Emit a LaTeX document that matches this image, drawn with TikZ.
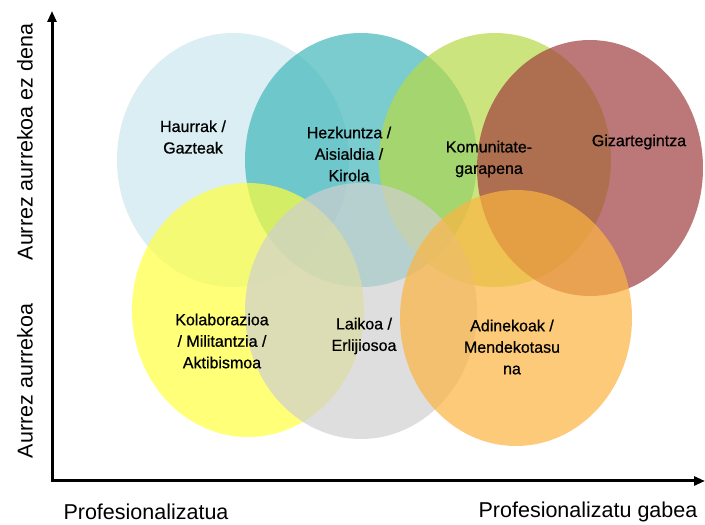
\documentclass[tikz,border=0pt]{standalone}
\usepackage{fontspec}
\setmainfont{Liberation Sans}
\newfontfamily\bubblefont[FakeBold=0.8]{Liberation Sans}
\usepackage{xcolor}
\usetikzlibrary{shapes.geometric,arrows.meta}

\definecolor{haurblue}{RGB}{203,231,238}
\definecolor{hezteal}{RGB}{65,182,185}
\definecolor{komgreen}{RGB}{183,217,70}
\definecolor{gizmaroon}{RGB}{160,62,62}
\definecolor{kolyellow}{RGB}{255,255,62}
\definecolor{laigrey}{RGB}{208,208,208}
\definecolor{adiorange}{RGB}{252,180,65}

\begin{document}
\begin{tikzpicture}[
    x=1pt, y=1pt,
    bubble/.style={ellipse, inner sep=0pt, minimum width=232pt, minimum height=254pt, fill opacity=0.7},
    lbl/.style={align=center, inner sep=0pt, font=\bubblefont\fontsize{16}{21.5}\selectfont},
    axislbl/.style={inner sep=0pt, font=\fontsize{21.5}{24}\selectfont},
    axis/.style={line width=3pt, {Triangle[length=11pt,width=9pt]}-{Triangle[length=11pt,width=9pt]}}
]
\useasboundingbox (0,0) rectangle (705,525);

% Goiko lerroa
\node[bubble, fill=haurblue] (haurrak) at (233,365) {};
\node[bubble, fill=hezteal] (hezkuntza) at (361,365) {};
\node[bubble, fill=komgreen] (komunitate) at (495,365) {};
\node[bubble, fill=gizmaroon, minimum width=226pt, minimum height=256pt] (gizarte) at (590,357) {};

% Beheko lerroa
\node[bubble, fill=kolyellow] (kolabor) at (248,215) {};
\node[bubble, fill=laigrey, minimum height=256pt] (laikoa) at (361,214) {};
\node[bubble, fill=adiorange, minimum height=256pt] (adineko) at (516,207) {};

% Testuak
\node[lbl] (haurraktxt) at (193,388) {Haurrak /\\Gazteak};
\node[lbl] (hezkuntzatxt) at (349,371) {Hezkuntza /\\Aisialdia /\\Kirola};
\node[lbl] (komunitatetxt) at (489,366) {Komunitate-\\garapena};
\node[lbl] (gizartetxt) at (639,383) {Gizartegintza};
\node[lbl] (kolabortxt) at (222,184) {Kolaborazioa\\/ Militantzia /\\Aktibismoa};
\node[lbl] (laikoatxt) at (364,189) {Laikoa /\\Erlijiosoa};
\node[lbl] (adinekotxt) at (512,178) {Adinekoak /\\Mendekotasu\\na};

% Ardatzak
\coordinate (origin) at (52,44);
\coordinate (ytop) at (52,514);
\coordinate (xend) at (705,44);
\draw[axis] (ytop) -- (origin.center) -- (xend);

\node[axislbl] (profes) at (146,13) {Profesionalizatua};
\node[axislbl] (profesgabe) at (588,13) {Profesionalizatu gabea};
\node[axislbl, rotate=90] (aurrezez) at (25,383) {Aurrez aurrekoa ez dena};
\node[axislbl, rotate=90] (aurrez) at (25,144) {Aurrez aurrekoa};

\end{tikzpicture}
\end{document}
